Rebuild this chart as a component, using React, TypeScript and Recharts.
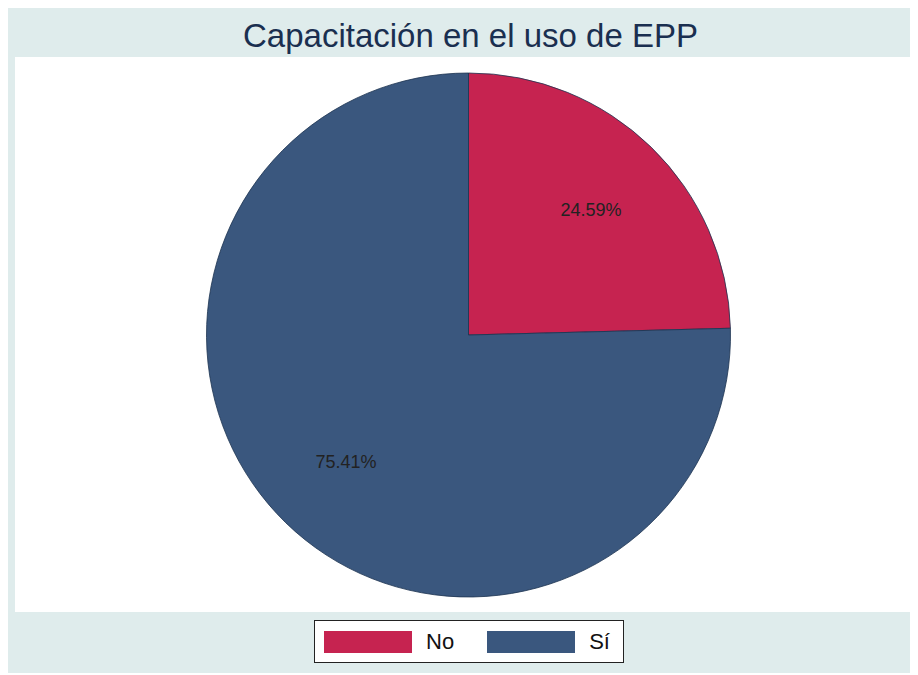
import { PieChart, Pie, Cell, Legend } from 'recharts'

const categories = ['No', 'Sí']
const shares = [24.59, 75.41]
const colors = ['#c62350', '#3a577e']

const data = categories.map((name, i) => ({ name, value: shares[i] }))

const FONT = '"Liberation Sans", Arial, Helvetica, sans-serif'
const RAD = Math.PI / 180

function renderLabel(props: any) {
  const { cx, cy, midAngle, outerRadius, value } = props
  const r = outerRadius * 0.67
  const x = cx + r * Math.cos(-midAngle * RAD)
  const y = cy + r * Math.sin(-midAngle * RAD)
  return (
    <text
      x={x}
      y={y + 1}
      textAnchor="middle"
      dominantBaseline="central"
      fill="#222"
      fontSize={18}
      fontFamily={FONT}
    >
      {value.toFixed(2)}%
    </text>
  )
}

function LegendBox(props: any) {
  const items = props.payload || []
  return (
    <div
      style={{
        boxSizing: 'border-box',
        width: 310,
        height: 43,
        border: '1px solid #222',
        background: '#fff',
        display: 'flex',
        alignItems: 'center',
        paddingLeft: 9,
        fontFamily: FONT,
      }}
    >
      {items.map((it: any, i: number) => (
        <div key={it.value} style={{ display: 'flex', alignItems: 'center', marginRight: i === 0 ? 33 : 0 }}>
          <div style={{ width: 88, height: 22, background: it.color }} />
          <span style={{ marginLeft: 14, fontSize: 22, color: '#111' }}>{it.value}</span>
        </div>
      ))}
    </div>
  )
}

export default function App() {
  return (
    <div style={{ position: 'relative', width: 910, height: 665, background: '#dfecec' }}>
      <div
        style={{
          position: 'absolute',
          left: 7,
          top: 49,
          width: 903,
          height: 555,
          background: '#fff',
        }}
      />
      <div
        style={{
          position: 'absolute',
          left: 0,
          top: 9,
          width: 925,
          textAlign: 'center',
          fontFamily: FONT,
          fontSize: 33,
          color: '#1a2f50',
          lineHeight: '37px',
        }}
      >
        Capacitación en el uso de EPP
      </div>
      <div style={{ position: 'absolute', left: 0, top: 0 }}>
        <PieChart width={910} height={665} margin={{ top: 0, right: 0, bottom: 0, left: 0 }}>
          <Pie
            data={data}
            dataKey="value"
            nameKey="name"
            cx={460.5}
            cy={327}
            outerRadius={262}
            startAngle={90}
            endAngle={-270}
            stroke="#1d3450"
            strokeWidth={0.8}
            label={renderLabel}
            labelLine={false}
            isAnimationActive={false}
          >
            {data.map((d, i) => (
              <Cell key={d.name} fill={colors[i]} />
            ))}
          </Pie>
          <Legend
            content={LegendBox}
            wrapperStyle={{ position: 'absolute', left: 306, top: 612, width: 310, height: 43 }}
          />
        </PieChart>
      </div>
    </div>
  )
}
